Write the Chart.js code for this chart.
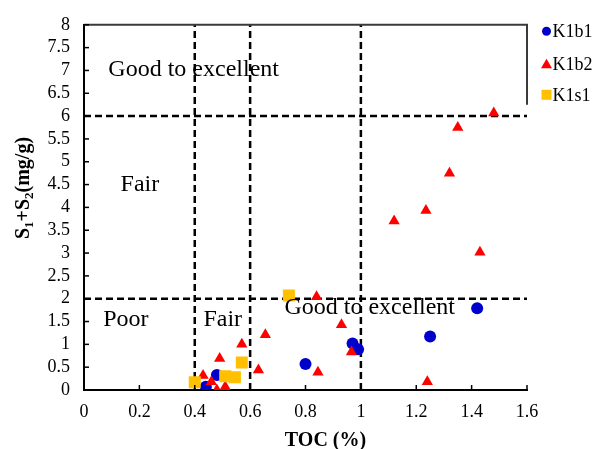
<!DOCTYPE html>
<html>
<head>
<meta charset="utf-8">
<script src="https://cdn.jsdelivr.net/npm/chart.js@4.4.0/dist/chart.umd.min.js"></script>
<style>
  html, body { margin: 0; padding: 0; background: #ffffff; }
  canvas { display: block; }
</style>
</head>
<body>
<canvas id="chart" width="594" height="449"></canvas>
<script>
// ---- data ----
const seriesNames = ['K1b1', 'K1b2', 'K1s1'];

const k1b1TOC = [0.44, 0.48, 0.80, 0.97, 0.99, 1.25, 1.42];
const k1b1S12 = [0.07, 0.33, 0.57, 1.02, 0.89, 1.17, 1.79];

const k1b2TOC = [0.43, 0.46, 0.48, 0.51, 0.49, 0.57, 0.63, 0.655, 0.84, 0.845, 0.93, 0.966, 1.12, 1.235, 1.24, 1.32, 1.35, 1.43, 1.48];
const k1b2S12 = [0.32, 0.18, 0.00, 0.07, 0.69, 1.00, 0.44, 1.21, 2.04, 0.39, 1.43, 0.83, 3.70, 3.93, 0.18, 4.75, 5.75, 3.02, 6.07];

const k1s1TOC = [0.40, 0.51, 0.545, 0.57, 0.74];
const k1s1S12 = [0.17, 0.30, 0.28, 0.60, 2.07];

const xTickValues = [0, 0.2, 0.4, 0.6, 0.8, 1, 1.2, 1.4, 1.6];
const yTickValues = [0, 0.5, 1, 1.5, 2, 2.5, 3, 3.5, 4, 4.5, 5, 5.5, 6, 6.5, 7, 7.5, 8];

// classification boundaries
const tocBoundaries = [0.4, 0.6, 1.0];
const s12Boundaries = [2, 6];

const zoneNames = ['Good to excellent', 'Fair', 'Poor', 'Fair', 'Good to excellent'];

// ---- helpers ----
const toPoints = (xs, ys) => xs.map((x, i) => ({ x: x, y: ys[i] }));

const SERIF = '"Liberation Serif", "Times New Roman", serif';
const colors = ['#0000CC', '#FF0000', '#FFC000'];

// zone label anchors in data units (centre x, baseline y)
const zoneAnchors = [
  { x: 0.396, y: 6.88 },
  { x: 0.202, y: 4.36 },
  { x: 0.151, y: 1.40 },
  { x: 0.501, y: 1.40 },
  { x: 1.032, y: 1.66 }
];

const boundaryLines = {
  id: 'boundaryLines',
  beforeDatasetsDraw(chart) {
    const { ctx, chartArea: a, scales: { x, y } } = chart;
    ctx.save();
    ctx.strokeStyle = '#000000';
    ctx.lineWidth = 2.5;
    ctx.setLineDash([7, 4]);
    tocBoundaries.forEach(v => {
      const px = x.getPixelForValue(v);
      ctx.beginPath();
      ctx.moveTo(px, a.bottom);
      ctx.lineTo(px, a.top);
      ctx.stroke();
    });
    s12Boundaries.forEach(v => {
      const py = y.getPixelForValue(v);
      ctx.beginPath();
      ctx.moveTo(a.left, py);
      ctx.lineTo(a.right, py);
      ctx.stroke();
    });
    ctx.restore();
  }
};

const frameAndTicks = {
  id: 'frameAndTicks',
  afterDraw(chart) {
    const { ctx, chartArea: a, scales: { x, y } } = chart;
    ctx.save();
    ctx.strokeStyle = '#3a3a3a';
    ctx.lineWidth = 2;
    ctx.beginPath();
    ctx.moveTo(a.left, a.top);
    ctx.lineTo(a.right, a.top);
    ctx.lineTo(a.right, a.top + 80);
    ctx.stroke();

    // inward tick marks
    ctx.strokeStyle = '#000000';
    ctx.lineWidth = 1.5;
    xTickValues.forEach(v => {
      const px = x.getPixelForValue(v);
      ctx.beginPath();
      ctx.moveTo(px, a.bottom);
      ctx.lineTo(px, a.bottom - 5);
      ctx.stroke();
    });
    yTickValues.forEach(v => {
      const py = y.getPixelForValue(v);
      ctx.beginPath();
      ctx.moveTo(a.left, py);
      ctx.lineTo(a.left + 5, py);
      ctx.stroke();
    });
    ctx.restore();
  }
};

const zoneText = {
  id: 'zoneText',
  afterDatasetsDraw(chart) {
    const { ctx, scales: { x, y } } = chart;
    ctx.save();
    ctx.fillStyle = '#000000';
    ctx.font = '24px ' + SERIF;
    ctx.textAlign = 'center';
    ctx.textBaseline = 'alphabetic';
    zoneNames.forEach((t, i) => {
      ctx.fillText(t, x.getPixelForValue(zoneAnchors[i].x), y.getPixelForValue(zoneAnchors[i].y));
    });
    ctx.restore();
  }
};

const axisTitles = {
  id: 'axisTitles',
  afterDraw(chart) {
    const { ctx, chartArea: a } = chart;
    ctx.save();
    ctx.fillStyle = '#000000';
    // x title
    ctx.font = 'bold 20px ' + SERIF;
    ctx.textAlign = 'center';
    ctx.textBaseline = 'alphabetic';
    ctx.fillText('TOC (%)', (a.left + a.right) / 2 + 20, 446);

    // y title with subscripts, rotated
    const parts = [
      { t: 'S', sub: false }, { t: '1', sub: true }, { t: '+S', sub: false },
      { t: '2', sub: true }, { t: '(mg/g)', sub: false }
    ];
    const big = 'bold 20px ' + SERIF;
    const small = 'bold 13px ' + SERIF;
    let total = 0;
    parts.forEach(p => { ctx.font = p.sub ? small : big; total += ctx.measureText(p.t).width; });
    ctx.translate(29, 188);
    ctx.rotate(-Math.PI / 2);
    ctx.textAlign = 'left';
    let cx = -total / 2;
    parts.forEach(p => {
      ctx.font = p.sub ? small : big;
      ctx.fillText(p.t, cx, p.sub ? 4 : 0);
      cx += ctx.measureText(p.t).width;
    });
    ctx.restore();
  }
};

const sideLegend = {
  id: 'sideLegend',
  afterDraw(chart) {
    const { ctx, chartArea: a } = chart;
    const rows = [a.top + 6.5, a.top + 39, a.top + 70];
    const mx = a.right + 19.5;
    ctx.save();
    ctx.font = '18px ' + SERIF;
    ctx.textAlign = 'left';
    ctx.textBaseline = 'middle';
    seriesNames.forEach((name, i) => {
      const cy = rows[i];
      ctx.fillStyle = colors[i];
      ctx.beginPath();
      if (i === 0) {
        ctx.arc(mx, cy, 4.5, 0, Math.PI * 2);
      } else if (i === 1) {
        ctx.moveTo(mx, cy - 5);
        ctx.lineTo(mx + 5.5, cy + 4.5);
        ctx.lineTo(mx - 5.5, cy + 4.5);
        ctx.closePath();
      } else {
        ctx.rect(mx - 5, cy - 5, 10, 10);
      }
      ctx.fill();
      ctx.fillStyle = '#000000';
      ctx.fillText(name, mx + 6, cy + 1);
    });
    ctx.restore();
  }
};

const tickFont = { family: SERIF, size: 18 };

new Chart(document.getElementById('chart').getContext('2d'), {
  type: 'scatter',
  data: {
    datasets: [
      {
        label: seriesNames[0], data: toPoints(k1b1TOC, k1b1S12),
        pointStyle: 'circle', pointRadius: 6, pointHoverRadius: 6,
        backgroundColor: colors[0], borderColor: colors[0], borderWidth: 0, order: 2
      },
      {
        label: seriesNames[1], data: toPoints(k1b2TOC, k1b2S12),
        pointStyle: 'triangle', pointRadius: 6.5, pointHoverRadius: 6.5,
        backgroundColor: colors[1], borderColor: colors[1], borderWidth: 0, order: 1
      },
      {
        label: seriesNames[2], data: toPoints(k1s1TOC, k1s1S12),
        pointStyle: 'rect', pointRadius: 8.5, pointHoverRadius: 8.5,
        backgroundColor: colors[2], borderColor: colors[2], borderWidth: 0, order: 0
      }
    ]
  },
  options: {
    responsive: false,
    animation: false,
    devicePixelRatio: 1,
    events: [],
    layout: { padding: { top: 20, right: 67, left: 0, bottom: 0 } },
    plugins: { legend: { display: false }, tooltip: { enabled: false } },
    scales: {
      x: {
        type: 'linear', min: 0, max: 1.6,
        afterBuildTicks: s => { s.ticks = xTickValues.map(v => ({ value: v })); },
        afterFit: s => { s.height = 59; },
        ticks: { font: tickFont, color: '#000000', padding: 11, maxRotation: 0, autoSkip: false, callback: v => String(v) },
        grid: { display: false, drawTicks: false },
        border: { display: true, color: '#000000', width: 2 }
      },
      y: {
        type: 'linear', min: 0, max: 8,
        afterBuildTicks: s => { s.ticks = yTickValues.map(v => ({ value: v })); },
        afterFit: s => { s.width = 84; },
        ticks: { font: tickFont, color: '#000000', padding: 14, autoSkip: false, callback: v => String(v) },
        grid: { display: false, drawTicks: false },
        border: { display: true, color: '#000000', width: 2 }
      }
    }
  },
  plugins: [boundaryLines, zoneText, frameAndTicks, axisTitles, sideLegend]
});
</script>
</body>
</html>
